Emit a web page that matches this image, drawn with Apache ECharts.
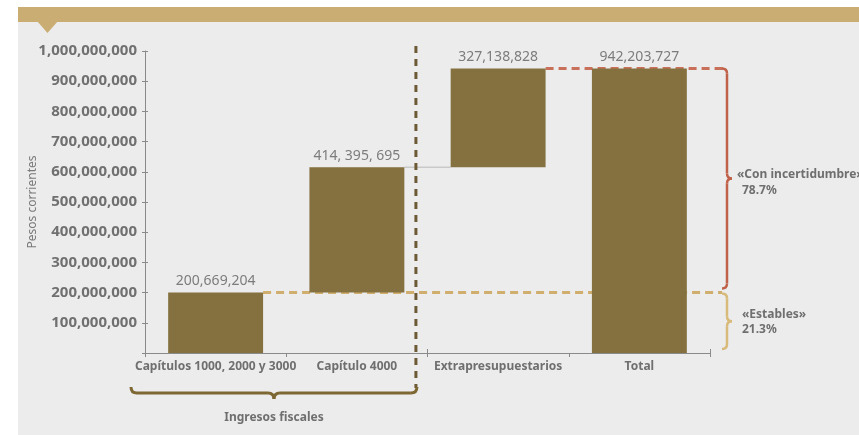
<!DOCTYPE html>
<html>
<head>
<meta charset="utf-8">
<script src="https://cdn.jsdelivr.net/npm/echarts@6/dist/echarts.min.js"></script>
<style>
  html, body { margin: 0; padding: 0; background: #fff; }
  #chart { width: 859px; height: 435px; }
</style>
</head>
<body>
<div id="chart"></div>
<script>
// Waterfall of revenue sources (pesos corrientes)
const categories = ['Capítulos 1000, 2000 y 3000', 'Capítulo 4000', 'Extrapresupuestarios', 'Total'];
const barValues = [200669204, 414395695, 327138828, 942203727];
const barLabels = ['200,669,204', '414, 395, 695', '327,138,828', '942,203,727'];
const yMin = 0;
const yMax = 1000000000;
const yStep = 100000000;
const axisTitle = 'Pesos corrientes';
const groupLabel = 'Ingresos fiscales';
const bandNames = ['«Con incertidumbre»', '«Estables»'];

// invisible offsets so each step starts where the previous one ended; the total starts at 0
const baseValues = [0, barValues[0], barValues[0] + barValues[1], 0];
const stableValue = barValues[0];
const totalValue = barValues[3];
const stablePct = (stableValue / totalValue * 100).toFixed(1) + '%';
const uncertainPct = ((totalValue - stableValue) / totalValue * 100).toFixed(1) + '%';

const FONT = '"Noto Sans", "Open Sans", sans-serif';
const BAR_COLOR = '#84713F';
const BAR_RATIO = 0.672;
const GRAY_TEXT = '#6f6f6f';

function fmtThousands(v) {
  return String(v).replace(/\B(?=(\d{3})+(?!\d))/g, ',');
}

function line(x1, y1, x2, y2, stroke, width, dash) {
  return {
    type: 'line',
    shape: { x1, y1, x2, y2 },
    style: { stroke, lineWidth: width, lineDash: dash || null, fill: null }
  };
}
function curve(x1, y1, cx, cy, x2, y2, stroke, width) {
  return {
    type: 'bezierCurve',
    shape: { x1, y1, x2, y2, cpx1: cx, cpy1: cy },
    style: { stroke, lineWidth: width, fill: null }
  };
}
// curly brace opening to the left, tip pointing right
function braceRight(x, y1, y2, stroke, width) {
  const r = 5, ym = (y1 + y2) / 2;
  return [
    curve(x - r, y1, x, y1, x, y1 + r, stroke, width),
    line(x, y1 + r, x, ym - r, stroke, width),
    curve(x, ym - r, x, ym, x + r, ym, stroke, width),
    curve(x + r, ym, x, ym, x, ym + r, stroke, width),
    line(x, ym + r, x, y2 - r, stroke, width),
    curve(x, y2 - r, x, y2, x - r, y2, stroke, width)
  ];
}
// curly brace opening upward, tip pointing down
function braceDown(x1, x2, y, stroke, width) {
  const r = 6, xm = (x1 + x2) / 2;
  return [
    curve(x1, y - r, x1, y, x1 + r, y, stroke, width),
    line(x1 + r, y, xm - r, y, stroke, width),
    curve(xm - r, y, xm, y, xm, y + r, stroke, width),
    curve(xm, y + r, xm, y, xm + r, y, stroke, width),
    line(xm + r, y, x2 - r, y, stroke, width),
    curve(x2 - r, y, x2, y, x2, y - r, stroke, width)
  ];
}
function text(str, x, y, opts) {
  return {
    type: 'text',
    style: Object.assign({
      text: str, x, y,
      fill: GRAY_TEXT,
      font: 'bold 12px ' + FONT,
      align: 'left',
      verticalAlign: 'middle'
    }, opts || {})
  };
}

function renderNotes(params, api) {
  const bw = api.size([1, 0])[0];
  const half = bw * BAR_RATIO / 2;
  const cx = i => api.coord([i, 0])[0];
  const py = v => api.coord([0, v])[1];

  const y0 = py(yMin);
  const yTop = py(yMax);
  const yStable = py(stableValue);
  const yStep2 = py(baseValues[2]);
  const yTotal = py(totalValue);
  const rightEdge = cx(3) + bw / 2;
  const braceX = rightEdge + 17;
  const dividerX = cx(1) + (half + bw / 2) / 2;
  const leftEdge = cx(0) - bw / 2;

  const kids = [];
  // step connector between the second and third bars
  kids.push(line(cx(1) + half, yStep2, cx(2) - half, yStep2, '#c9c9c9', 1.5));
  // stable level and total level guides
  kids.push(line(cx(0) + half, yStable, braceX - 5, yStable, '#CFAE6E', 3, [8, 5]));
  kids.push(line(cx(2) + half, yTotal, braceX - 1, yTotal, '#C8705A', 3, [8, 5]));
  // divider between fiscal revenue and the rest
  kids.push(line(dividerX, yTop - 5, dividerX, y0 + 35, '#6B5A35', 3, [7, 6]));

  // braces
  braceRight(braceX, yTotal, yStable - 4, '#C0614A', 2.5).forEach(e => kids.push(e));
  braceRight(braceX, yStable + 1, y0 - 4, '#D8BB7B', 2.5).forEach(e => kids.push(e));
  braceDown(leftEdge - 14, dividerX + 1, y0 + 40, '#7D6733', 3).forEach(e => kids.push(e));

  // annotations
  const yUnc = (yTotal + yStable) / 2;
  const yStb = (yStable + y0) / 2;
  kids.push(text(bandNames[0], braceX + 10, yUnc - 6));
  kids.push(text(uncertainPct, braceX + 15, yUnc + 10));
  kids.push(text(bandNames[1], braceX + 15, yStb - 8));
  kids.push(text(stablePct, braceX + 15, yStb + 7));
  kids.push(text(groupLabel, (leftEdge - 14 + dividerX + 1) / 2, y0 + 65, { align: 'center' }));

  return { type: 'group', children: kids };
}

const chart = echarts.init(document.getElementById('chart'), null, { renderer: 'canvas' });

chart.setOption({
  backgroundColor: '#ffffff',
  animation: false,
  graphic: [
    { type: 'rect', z: -10, shape: { x: 18, y: 22, width: 841, height: 413 }, style: { fill: '#ECECEC' } },
    { type: 'rect', z: -9, shape: { x: 18, y: 7, width: 841, height: 15 }, style: { fill: '#C9AD72' } },
    { type: 'polygon', z: -9, shape: { points: [[37, 21], [58, 21], [47.5, 33]] }, style: { fill: '#C9AD72' } }
  ],
  grid: { left: 145, right: 149, top: 51, bottom: 82 },
  xAxis: [
    {
      type: 'category',
      data: categories,
      axisLine: { lineStyle: { color: '#8a8a8a', width: 1 } },
      axisTick: { show: true, length: 4, lineStyle: { color: '#8a8a8a' } },
      axisLabel: { color: GRAY_TEXT, fontWeight: 'bold', fontSize: 12, fontFamily: FONT, margin: 8, interval: 0 }
    },
    {
      type: 'category',
      data: categories,
      position: 'bottom',
      axisLine: { show: false },
      axisTick: { show: true, inside: true, length: 4, lineStyle: { color: '#8a8a8a' } },
      axisLabel: { show: false }
    }
  ],
  yAxis: [
    {
      type: 'value',
      min: yMin, max: yMax, interval: yStep,
      splitLine: { show: false },
      axisLine: { show: true, lineStyle: { color: '#8a8a8a', width: 1 } },
      axisTick: { show: true, length: 3, lineStyle: { color: '#8a8a8a' } },
      axisLabel: {
        color: '#707070', fontWeight: 'bold', fontSize: 15, fontFamily: FONT, margin: 8,
        formatter: v => (v === 0 ? '' : fmtThousands(v))
      },
      name: axisTitle,
      nameLocation: 'middle',
      nameRotate: 90,
      nameGap: 106,
      nameMoveOverlap: false,
      nameTextStyle: { color: '#7a7a7a', fontSize: 12, fontFamily: FONT }
    },
    {
      type: 'value',
      min: yMin, max: yMax, interval: yStep,
      position: 'left',
      splitLine: { show: false },
      axisLine: { show: false },
      axisTick: { show: true, inside: true, length: 3, lineStyle: { color: '#8a8a8a' } },
      axisLabel: { show: false }
    }
  ],
  series: [
    {
      type: 'custom',
      z: 1,
      clip: false,
      silent: true,
      renderItem: renderNotes,
      data: [[0, 0]],
      encode: { x: 0, y: 1 }
    },
    {
      name: 'base',
      type: 'bar',
      stack: 'waterfall',
      z: 3,
      silent: true,
      itemStyle: { color: 'rgba(0,0,0,0)' },
      barWidth: (BAR_RATIO * 100) + '%',
      data: baseValues
    },
    {
      name: 'value',
      type: 'bar',
      stack: 'waterfall',
      z: 3,
      itemStyle: { color: BAR_COLOR },
      barWidth: (BAR_RATIO * 100) + '%',
      label: {
        show: true,
        position: 'top',
        distance: 4,
        color: '#7c7c7c',
        fontSize: 14,
        fontFamily: FONT,
        formatter: p => barLabels[p.dataIndex]
      },
      data: barValues
    }
  ]
});
</script>
</body>
</html>
